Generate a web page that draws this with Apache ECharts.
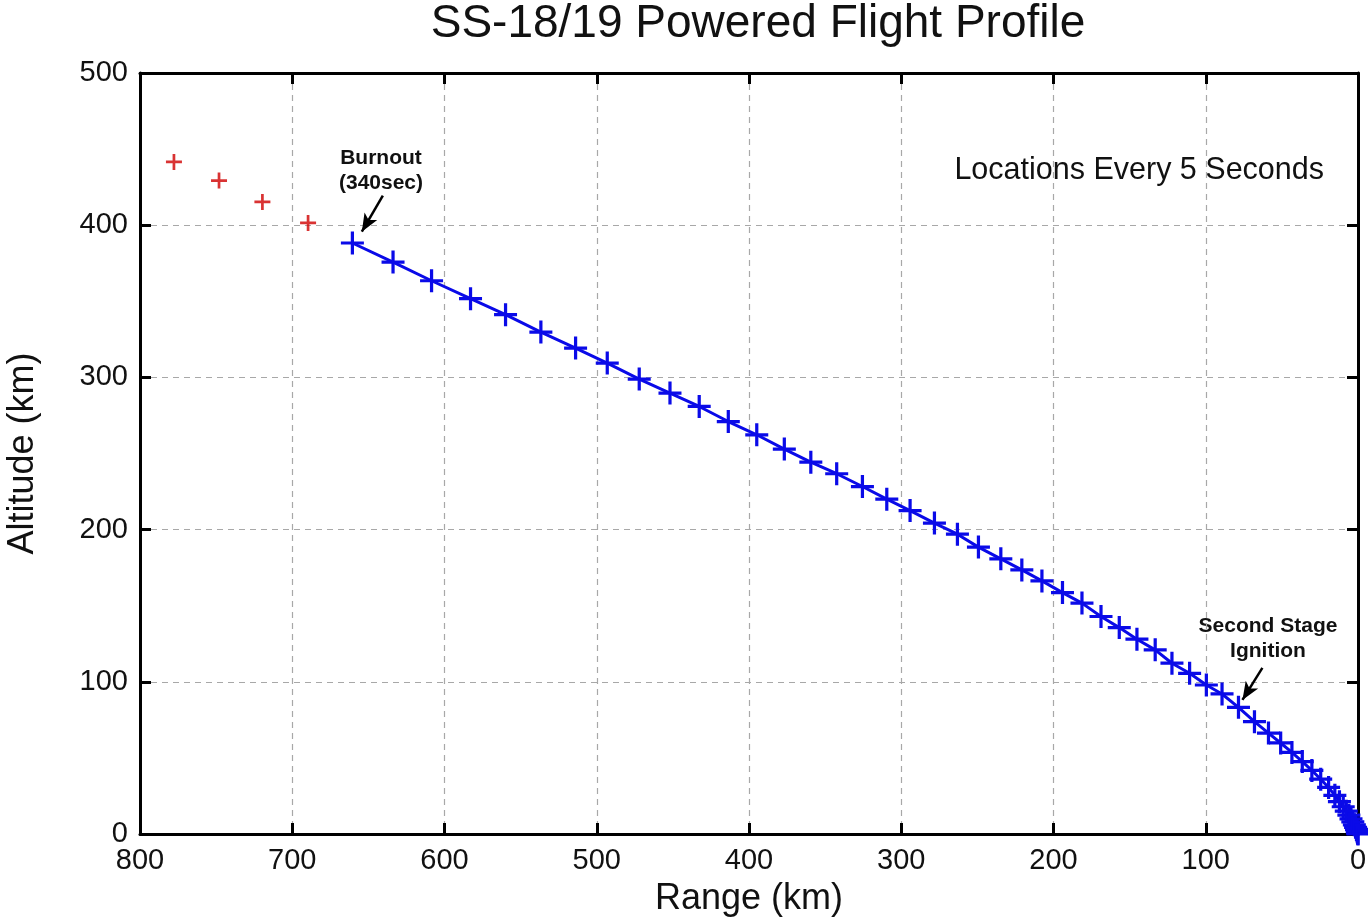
<!DOCTYPE html>
<html>
<head>
<meta charset="utf-8">
<script src="https://cdn.jsdelivr.net/npm/echarts@6/dist/echarts.min.js"></script>
<style>
  html, body { margin: 0; padding: 0; background: #fff; }
  #chart { width: 1368px; height: 920px; }
</style>
</head>
<body>
<div id="chart"></div>
<script>
// Powered-flight track, one location every 5 seconds: [range km, altitude km]
const poweredRange = [0, 0.1, 0.3, 0.6, 1.0, 1.6, 2.4, 3.4, 4.6, 6.0, 7.7, 9.7, 12.2, 15.2, 19.3, 24.5, 30.3, 36.6, 43.4, 50.8, 58.8, 68.0, 78.5,
  89.3, 99.6, 110.6, 122.2, 133.2, 145.2, 156.8, 168.8, 181.3, 194.1, 207.6, 220.8, 234.6, 249.3, 263.1, 278.2, 294.2, 309.5,
  325.5, 342.4, 359.4, 376.8, 394.9, 413.6, 432.7, 451.9, 472.1, 493.1, 513.9, 536.7, 559.9, 582.9, 608.5, 633.8, 660.5];
const poweredAltitude = [0, 0.4, 1.0, 1.9, 3.0, 4.4, 6.0, 7.9, 10.0, 12.4, 15.0, 17.9, 21.2, 25.4, 30.6, 36.0, 41.8, 47.6, 53.6, 59.8, 66.3, 73.8, 83.2,
  92.0, 97.9, 105.6, 112.2, 121.0, 128.0, 135.6, 142.9, 151.7, 158.6, 166.3, 173.5, 180.8, 188.5, 197.0, 204.3, 212.5, 220.0,
  228.3, 236.7, 244.3, 252.9, 262.3, 271.0, 280.9, 289.7, 298.9, 309.4, 319.3, 329.8, 341.2, 351.7, 363.5, 375.8, 388.3];

// Post-burnout locations
const coastRange = [689.6, 719.6, 748.1, 777.7];
const coastAltitude = [401.5, 415.3, 429.3, 441.6];

// Axis ticks
const rangeTicks = [0, 100, 200, 300, 400, 500, 600, 700, 800];
const altitudeTicks = [0, 100, 200, 300, 400, 500];

// Annotation arrows: [tail, head] in data units
const burnoutArrow = [[640.5, 419.4], [654.3, 395.7]];
const ignitionArrow = [[62.8, 109.1], [75.9, 88.1]];

// Filled plus-sign glyphs for the location markers
const plus = 'path://M8.6,0h2.8v8.6h8.6v2.8h-8.6v8.6h-2.8v-8.6h-8.6v-2.8h8.6z';
const plusBold = 'path://M8.3,0h3.4v8.3h8.3v3.4h-8.3v8.3h-3.4v-8.3h-8.3v-3.4h8.3z';

const chart = echarts.init(document.getElementById('chart'), null, { renderer: 'canvas' });

const labelFont = { fontFamily: 'Liberation Sans, Arial, sans-serif', color: '#111' };

const gridDash = { type: [6, 5], color: '#a8a8a8', width: 1.2 };

function rangeAxis(pos, showLabels) {
  return {
    type: 'value', position: pos, inverse: true,
    min: rangeTicks[0], max: rangeTicks[rangeTicks.length - 1], interval: 100,
    axisLine: { show: true, onZero: false, lineStyle: { color: '#000', width: 3 } },
    axisTick: { show: true, inside: true, length: 11, lineStyle: { color: '#000', width: 3 } },
    axisLabel: { show: showLabels, fontSize: 29, margin: 12, ...labelFont },
    splitLine: { show: showLabels, lineStyle: gridDash },
    name: showLabels ? 'Range (km)' : '',
    nameLocation: 'middle', nameGap: 47,
    nameTextStyle: { fontSize: 36, ...labelFont }
  };
}
function altitudeAxis(pos, showLabels) {
  return {
    type: 'value', position: pos,
    min: altitudeTicks[0], max: altitudeTicks[altitudeTicks.length - 1], interval: 100,
    axisLine: { show: true, onZero: false, lineStyle: { color: '#000', width: 3 } },
    axisTick: { show: true, inside: true, length: 11, lineStyle: { color: '#000', width: 3 } },
    axisLabel: { show: showLabels, fontSize: 29, margin: 12, ...labelFont },
    splitLine: { show: showLabels, lineStyle: gridDash },
    name: showLabels ? 'Altitude (km)' : '',
    nameLocation: 'middle', nameGap: 99,
    nameTextStyle: { fontSize: 36, ...labelFont }
  };
}

const arrowLine = (pts) => ({
  silent: true,
  symbol: ['none', 'arrow'],
  symbolSize: [11, 18],
  lineStyle: { color: '#000', width: 2.5, type: 'solid' },
  label: { show: false },
  data: [[{ coord: pts[0] }, { coord: pts[1] }]]
});

chart.setOption({
  animation: false,
  backgroundColor: '#fff',
  title: {
    text: 'SS-18/19 Powered Flight Profile',
    left: 753, top: -4, textAlign: 'center',
    textStyle: { fontSize: 46, fontWeight: 'normal', ...labelFont }
  },
  grid: { left: 140, right: 10, top: 73, bottom: 86, containLabel: false, outerBoundsMode: 'none' },
  xAxis: [rangeAxis('bottom', true), rangeAxis('top', false)],
  yAxis: [altitudeAxis('left', true), altitudeAxis('right', false)],
  series: [
    {
      type: 'line',
      data: poweredRange.map((r, i) => [r, poweredAltitude[i]]),
      symbol: plus, symbolSize: 23, showAllSymbol: true,
      lineStyle: { color: '#0a0ae8', width: 3 },
      itemStyle: { color: '#0a0ae8' },
      z: 5,
      markLine: arrowLine(burnoutArrow)
    },
    {
      type: 'scatter',
      data: coastRange.map((r, i) => [r, coastAltitude[i]]),
      symbol: plusBold, symbolSize: 16,
      itemStyle: { color: '#d00000' },
      markLine: arrowLine(ignitionArrow)
    }
  ],
  graphic: [
    {
      type: 'text', x: 381, y: 146,
      style: {
        text: 'Burnout\n(340sec)', textAlign: 'center', lineHeight: 25,
        font: 'bold 21px "Liberation Sans Narrow", "Liberation Sans", Arial, sans-serif', fill: '#111'
      }
    },
    {
      type: 'text', x: 1268, y: 614,
      style: {
        text: 'Second Stage\nIgnition', textAlign: 'center', lineHeight: 25,
        font: 'bold 21px "Liberation Sans Narrow", "Liberation Sans", Arial, sans-serif', fill: '#111'
      }
    },
    {
      type: 'text', x: 1324, y: 155,
      style: {
        text: 'Locations Every 5 Seconds', textAlign: 'right',
        font: '30.5px "Liberation Sans", Arial, sans-serif', fill: '#111'
      }
    }
  ]
});
</script>
</body>
</html>
